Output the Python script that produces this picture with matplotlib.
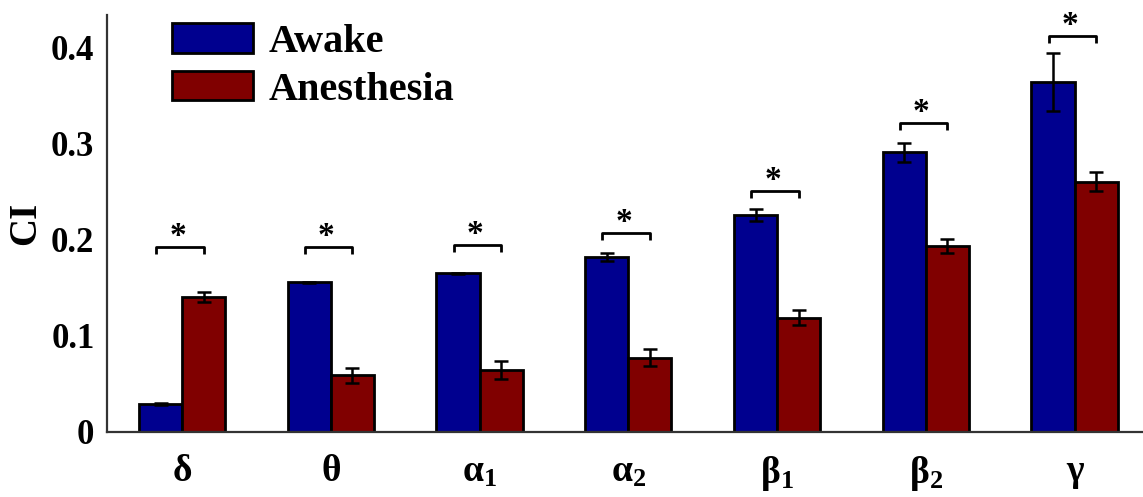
import numpy as np
import matplotlib.pyplot as plt

# -----------------------------
# 数据
# -----------------------------
bands = ["δ", "θ", "α$_\\mathbf{1}$", "α$_\\mathbf{2}$", "β$_\\mathbf{1}$", "β$_\\mathbf{2}$", "γ"]
awake = [0.029, 0.156, 0.165, 0.182, 0.226, 0.291, 0.364]
awake_err = [0.001, 0.0006, 0.001, 0.004, 0.0065, 0.0095, 0.030]
anesthesia = [0.1405, 0.0588, 0.0645, 0.0775, 0.119, 0.1935, 0.2605]
anesthesia_err = [0.0048, 0.0078, 0.0098, 0.0088, 0.0076, 0.0075, 0.0100]
bracket_y = [0.193, 0.193, 0.195, 0.207, 0.251, 0.322, 0.4125]

# -----------------------------
# 样式
# -----------------------------
plt.rcParams['font.family'] = ['Liberation Serif', 'DejaVu Serif']
plt.rcParams['font.weight'] = 'bold'
plt.rcParams['mathtext.fontset'] = 'custom'
plt.rcParams['mathtext.rm'] = 'Liberation Serif:bold'
plt.rcParams['mathtext.bf'] = 'Liberation Serif:bold'
plt.rcParams['mathtext.it'] = 'Liberation Serif:bold'

fig = plt.figure(figsize=(11.43, 4.97), dpi=100)
ax = fig.add_axes([0.0936, 0.1308, 0.9064, 0.839])

x = np.arange(len(bands))
w = 0.29
err_kw = dict(ecolor='black', elinewidth=1.8, capsize=5, capthick=1.8)
ax.bar(x - w/2, awake, w, yerr=awake_err, color='#00008f', edgecolor='black',
       linewidth=2.0, label='Awake', error_kw=err_kw)
ax.bar(x + w/2, anesthesia, w, yerr=anesthesia_err, color='#800000', edgecolor='black',
       linewidth=2.0, label='Anesthesia', error_kw=err_kw)

# 显著性标记
leg = 0.0075
for xi, by in zip(x, bracket_y):
    ax.plot([xi - 0.175, xi - 0.175, xi + 0.145, xi + 0.145],
            [by - leg, by, by, by - leg], color='black', lw=2.0, solid_capstyle='butt')
    ax.text(xi - 0.03, by + 0.002, '*', ha='center', va='baseline', fontsize=24, fontweight='bold')

ax.set_xlim(-0.505, 6.46)
ax.set_ylim(0, 0.434)
ax.set_yticks([0, 0.1, 0.2, 0.3, 0.4])
ax.set_yticklabels(['0', '0.1', '0.2', '0.3', '0.4'])
ax.set_xticks(x)
ax.set_xticklabels(bands)
ax.tick_params(axis='both', length=0)
ax.tick_params(axis='y', pad=9, labelsize=25)
ax.tick_params(axis='x', pad=16, labelsize=27)
ax.set_ylabel('CI', fontsize=28, fontweight='bold', labelpad=5)

for s in ['top', 'right']:
    ax.spines[s].set_visible(False)
for s in ['left', 'bottom']:
    ax.spines[s].set_color('#333333')
    ax.spines[s].set_linewidth(1.6)

ax.legend(loc='upper left', bbox_to_anchor=(0.055, 1.0), frameon=False, fontsize=29,
          handlelength=2.0, handleheight=0.75, handletextpad=0.4, labelspacing=0.25,
          borderpad=0.1, borderaxespad=0.1)

plt.savefig('out.png', dpi=100)
